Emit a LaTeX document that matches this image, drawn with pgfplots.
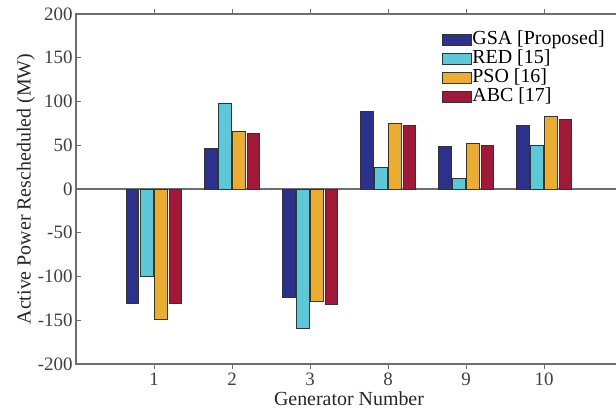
\documentclass[border=0pt]{standalone}
\usepackage{fontspec}
\setmainfont{Liberation Serif}
\usepackage{pgfplots}
\pgfplotsset{compat=1.18}

\definecolor{gsa}{RGB}{44,50,140}
\definecolor{red15}{RGB}{92,200,216}
\definecolor{pso}{RGB}{235,172,50}
\definecolor{abc}{RGB}{160,26,55}
\definecolor{axgray}{RGB}{110,110,110}

\begin{document}
\begin{tikzpicture}
\begin{axis}[
    scale only axis,
    width=546bp, height=350bp,
    xmin=0, xmax=7, ymin=-200, ymax=200,
    xtick={1,...,6}, xticklabels={1,2,3,8,9,10},
    ytick={-200,-150,...,200},
    /pgf/number format/assume math mode=true,
    tick align=inside,
    major tick length=5bp,
    axis line style={axgray, line width=1.2pt},
    tick style={axgray, line width=1pt},
    tick label style={font=\fontsize{19}{22}\selectfont, text=black!75},
    label style={font=\fontsize{20}{23}\selectfont, text=black!85},
    xlabel={Generator Number},
    ylabel={Active Power Rescheduled (MW)},
    xlabel style={yshift=0bp},
    ylabel style={yshift=-4bp},
    ybar, bar width=0.16,
    extra y ticks={0}, extra y tick labels={},
    extra y tick style={grid=major, major grid style={axgray, line width=1.2pt}, major tick length=0pt},
    legend image code/.code={\draw[#1] (0bp,-5.5bp) rectangle (29bp,5.5bp);},
    legend cell align=left,
    legend style={draw=none, fill=none, at={(0.975,0.96)}, anchor=north east,
        font=\fontsize{20}{20}\selectfont, row sep=0bp,
        nodes={inner sep=0.5bp, text height=13.5bp, text depth=4.5bp}},
]
\addplot[fill=gsa, draw=black!80, line width=0.9pt, bar shift=-0.273] coordinates {
    (1,-130.8) (2,46.5) (3,-124) (4,88.8) (5,48.4) (6,72.2)
};
\addlegendentry{GSA [Proposed]}
\addplot[fill=red15, draw=black!80, line width=0.9pt, bar shift=-0.091] coordinates {
    (1,-99.6) (2,98.3) (3,-159) (4,24.6) (5,12.5) (6,49.5)
};
\addlegendentry{RED [15]}
\addplot[fill=pso, draw=black!80, line width=0.9pt, bar shift=0.091] coordinates {
    (1,-149) (2,65.4) (3,-128.5) (4,75.2) (5,52.2) (6,83.1)
};
\addlegendentry{PSO [16]}
\addplot[fill=abc, draw=black!80, line width=0.9pt, bar shift=0.273] coordinates {
    (1,-130.8) (2,63) (3,-131.9) (4,72.2) (5,49.5) (6,79)
};
\addlegendentry{ABC [17]}
\end{axis}
\pgfresetboundingbox
\useasboundingbox ([xshift=-76bp,yshift=-49.5bp]current axis.south west)
    rectangle ([xshift=-6bp,yshift=14bp]current axis.north east);
\end{tikzpicture}
\end{document}
